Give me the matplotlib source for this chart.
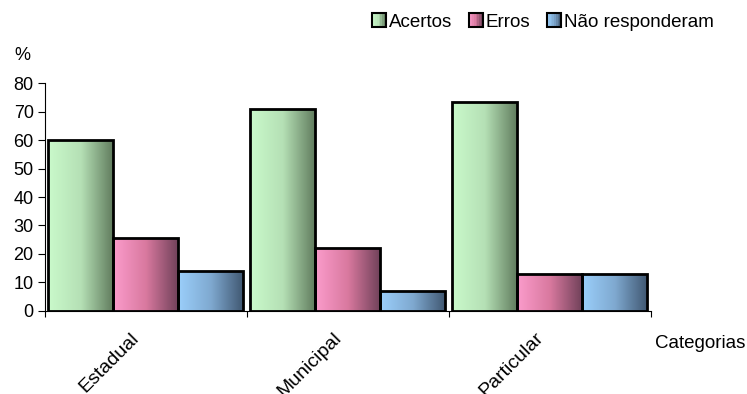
import numpy as np
import matplotlib
matplotlib.use("Agg")
from matplotlib import pyplot as plt
from matplotlib.colors import LinearSegmentedColormap
from matplotlib.patches import Rectangle
from matplotlib.legend_handler import HandlerBase

plt.rcParams['font.family'] = ['Liberation Sans', 'DejaVu Sans']

categorias = ['Estadual', 'Municipal', 'Particular']
series = ['Acertos', 'Erros', 'Não responderam']
acertos = [60, 71, 73.5]
erros = [25.5, 22, 13]
nao_resp = [14, 7, 13]

# light -> dark horizontal gradients
cores = [('#cafacb', '#b5e0b5', '#5f7a5c'),
         ('#fb9ccc', '#d9799f', '#6e4058'),
         ('#9bcffb', '#7fa9d0', '#3f5670')]
cmaps = [LinearSegmentedColormap.from_list(s, c) for s, c in zip(series, cores)]

fig = plt.figure(figsize=[7.47, 3.94], dpi=100)
ax = fig.add_axes([0.060, 0.211, 0.811, 0.578])

grad = np.linspace(0, 1, 256).reshape(1, -1)
x = np.arange(len(categorias))
w = 0.322
valores = [acertos, erros, nao_resp]
for i, vals in enumerate(valores):
    pos = x + (i - 1) * w
    bars = ax.bar(pos, vals, width=w, facecolor='none', edgecolor='black',
                  linewidth=2, zorder=3)
    for b in bars:
        im = ax.imshow(grad, cmap=cmaps[i], aspect='auto', zorder=2,
                       extent=[b.get_x(), b.get_x() + b.get_width(), 0, b.get_height()])
        im.set_clip_path(b)

ax.set_xlim(-0.5, 2.5)
ax.set_ylim(0, 80)
ax.set_yticks(range(0, 81, 10))
ax.tick_params(axis='y', labelsize=13, length=5, width=0.8, pad=3)
ax.set_xticks([-0.5, 0.5, 1.5, 2.5])
ax.set_xticklabels([])
ax.tick_params(axis='x', length=4, width=0.8)
for s in ['top', 'right']:
    ax.spines[s].set_visible(False)
ax.spines['left'].set_linewidth(0.8)
ax.spines['bottom'].set_linewidth(0.8)

for xi, nome in zip(x, categorias):
    ax.text(xi - 0.075, -6.5, nome, rotation=45, ha='right', va='top',
            rotation_mode='anchor', fontsize=14)

fig.text(0.998, 0.128, 'Categorias', ha='right', va='center', fontsize=13.5)
fig.text(0.019, 0.86, '%', ha='left', va='center', fontsize=13)


class GradHandler(HandlerBase):
    def __init__(self, cmap):
        super().__init__()
        self.cmap = cmap

    def create_artists(self, legend, orig, xd, yd, width, height, fontsize, trans):
        arts = []
        n = 8
        for k in range(n):
            r = Rectangle((xd + k * width / n, yd), width / n, height,
                          facecolor=self.cmap((k + 0.5) / n), edgecolor='none',
                          transform=trans)
            arts.append(r)
        arts.append(Rectangle((xd, yd), width, height, facecolor='none',
                              edgecolor='black', linewidth=1.5, transform=trans))
        return arts


handles = [Rectangle((0, 0), 1, 1) for _ in series]
ax.legend(handles, series, handler_map={h: GradHandler(c) for h, c in zip(handles, cmaps)},
          loc='center', bbox_to_anchor=(0.727, 0.944), bbox_transform=fig.transFigure,
          ncol=3, frameon=False, fontsize=13.5, handlelength=0.72, handleheight=0.72,
          handletextpad=0.18, columnspacing=0.9, borderpad=0)

fig.savefig('out.png', dpi=100)
